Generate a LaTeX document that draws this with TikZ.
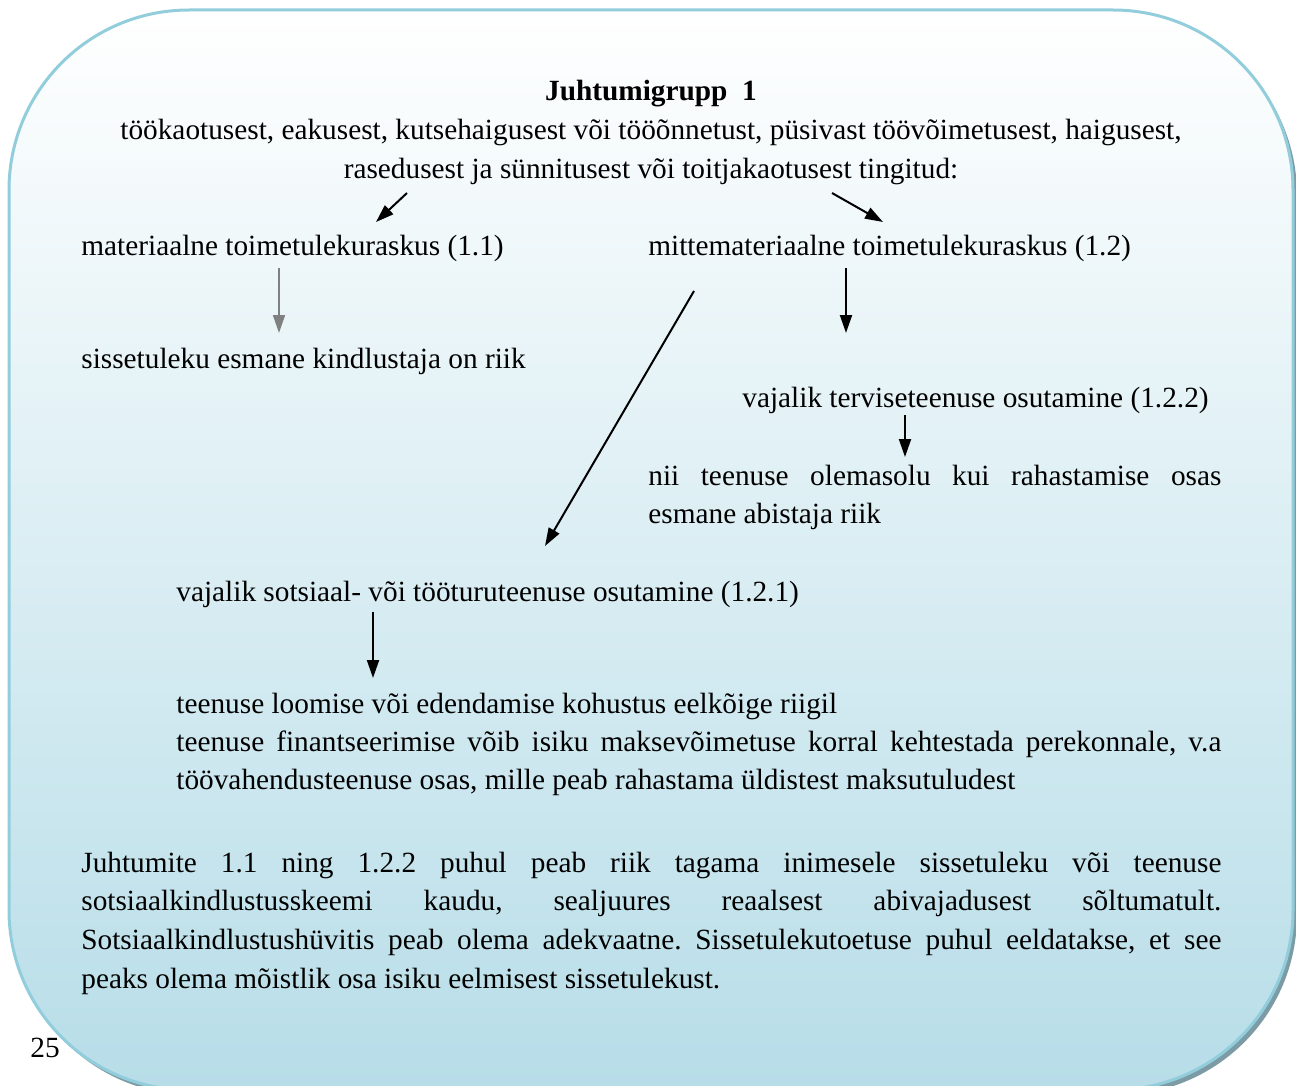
\documentclass[tikz,border=0pt]{standalone}
\usepackage{fontspec}
\setmainfont{Liberation Serif}
\usetikzlibrary{arrows.meta}
\frenchspacing
\definecolor{boxline}{RGB}{146,205,220}
\definecolor{boxbot}{RGB}{183,221,232}
\definecolor{shadowc}{RGB}{125,155,165}
\definecolor{arrgray}{RGB}{128,128,128}
\tikzset{
  txt/.style={anchor=base west, inner sep=0pt, font=\fontsize{14.65}{19.2}\selectfont},
  ctxt/.style={txt, anchor=base},
  para/.style={txt, text width=#1, align=justify},
  arr/.style={line width=1pt, -{Triangle[length=9pt,width=6pt]}},
  garr/.style={line width=0.8pt, draw=arrgray, -{Triangle[length=9pt,width=6pt]}}
}
\begin{document}
\begin{tikzpicture}[x=0.5pt,y=-0.5pt]
\useasboundingbox (0,0) rectangle (1296,1086);
\begin{scope}
\clip (0,0) rectangle (1296,1086);
\fill[shadowc, rounded corners=90pt] (13,15) rectangle (1297,1095);
\shade[top color=white, bottom color=boxbot, rounded corners=90pt] (9,10) rectangle (1293,1090);
\draw[boxline, line width=1.5pt, rounded corners=90pt] (9,10) rectangle (1293,1090);
\end{scope}
\node[ctxt, font=\fontsize{14.65}{19.2}\selectfont\bfseries] (title) at (651,101) {Juhtumigrupp\ \ 1};
\node[ctxt] (l2) at (651,140) {töökaotusest, eakusest, kutsehaigusest või tööõnnetust, püsivast töövõimetusest, haigusest,};
\node[ctxt] (l3) at (651,178) {rasedusest ja sünnitusest või toitjakaotusest tingitud:};
\node[txt] (m11) at (81,255) {materiaalne toimetulekuraskus (1.1)};
\node[txt] (m12) at (648,255) {mittemateriaalne toimetulekuraskus (1.2)};
\node[txt] (riik) at (81,368) {sissetuleku esmane kindlustaja on riik};
\node[txt] (ter) at (742,407) {vajalik terviseteenuse osutamine (1.2.2)};
\node[para=286.5pt] (nii) at (648,485) {\hyphenpenalty=10000\tolerance=10000 nii teenuse olemasolu kui rahastamise osas\linebreak esmane abistaja riik};
\node[txt] (sots) at (176,601) {vajalik sotsiaal- või tööturuteenuse osutamine (1.2.1)};
\node[txt] (loom) at (176,713) {teenuse loomise või edendamise kohustus eelkõige riigil};
\node[para=522.5pt] (fin) at (176,751) {\hyphenpenalty=10000\tolerance=10000 teenuse finantseerimise võib isiku maksevõimetuse korral kehtestada perekonnale, v.a\linebreak töövahendusteenuse osas, mille peab rahastama üldistest maksutuludest};
\node[para=570pt, font=\fontsize{14.65}{19.35}\selectfont] (jp) at (81,872) {\hyphenpenalty=10000\tolerance=10000 Juhtumite 1.1 ning 1.2.2 puhul peab riik tagama inimesele sissetuleku või teenuse\linebreak sotsiaalkindlustusskeemi kaudu, sealjuures reaalsest abivajadusest sõltumatult.\linebreak Sotsiaalkindlustushüvitis peab olema adekvaatne. Sissetulekutoetuse puhul eeldatakse, et see\linebreak peaks olema mõistlik osa isiku eelmisest sissetulekust.};
\node[txt] (pg) at (30,1057) {25};
% arrow end points
\coordinate (a1s) at (407,193); \coordinate (a1e) at (376,222);
\coordinate (a2s) at (832,193); \coordinate (a2e) at (883,222);
\coordinate (a3s) at (279,268); \coordinate (a3e) at (279,333);
\coordinate (a4s) at (846,268); \coordinate (a4e) at (846,333);
\coordinate (a5s) at (694,291); \coordinate (a5e) at (545,546);
\coordinate (a6s) at (905,415); \coordinate (a6e) at (905,457);
\coordinate (a7s) at (373,612); \coordinate (a7e) at (373,678);
\draw[arr] (a1s) -- (a1e);
\draw[arr] (a2s) -- (a2e);
\draw[garr] (a3s) -- (a3e);
\draw[arr] (a4s) -- (a4e);
\draw[arr] (a5s) -- (a5e);
\draw[arr] (a6s) -- (a6e);
\draw[arr] (a7s) -- (a7e);
\end{tikzpicture}
\end{document}
